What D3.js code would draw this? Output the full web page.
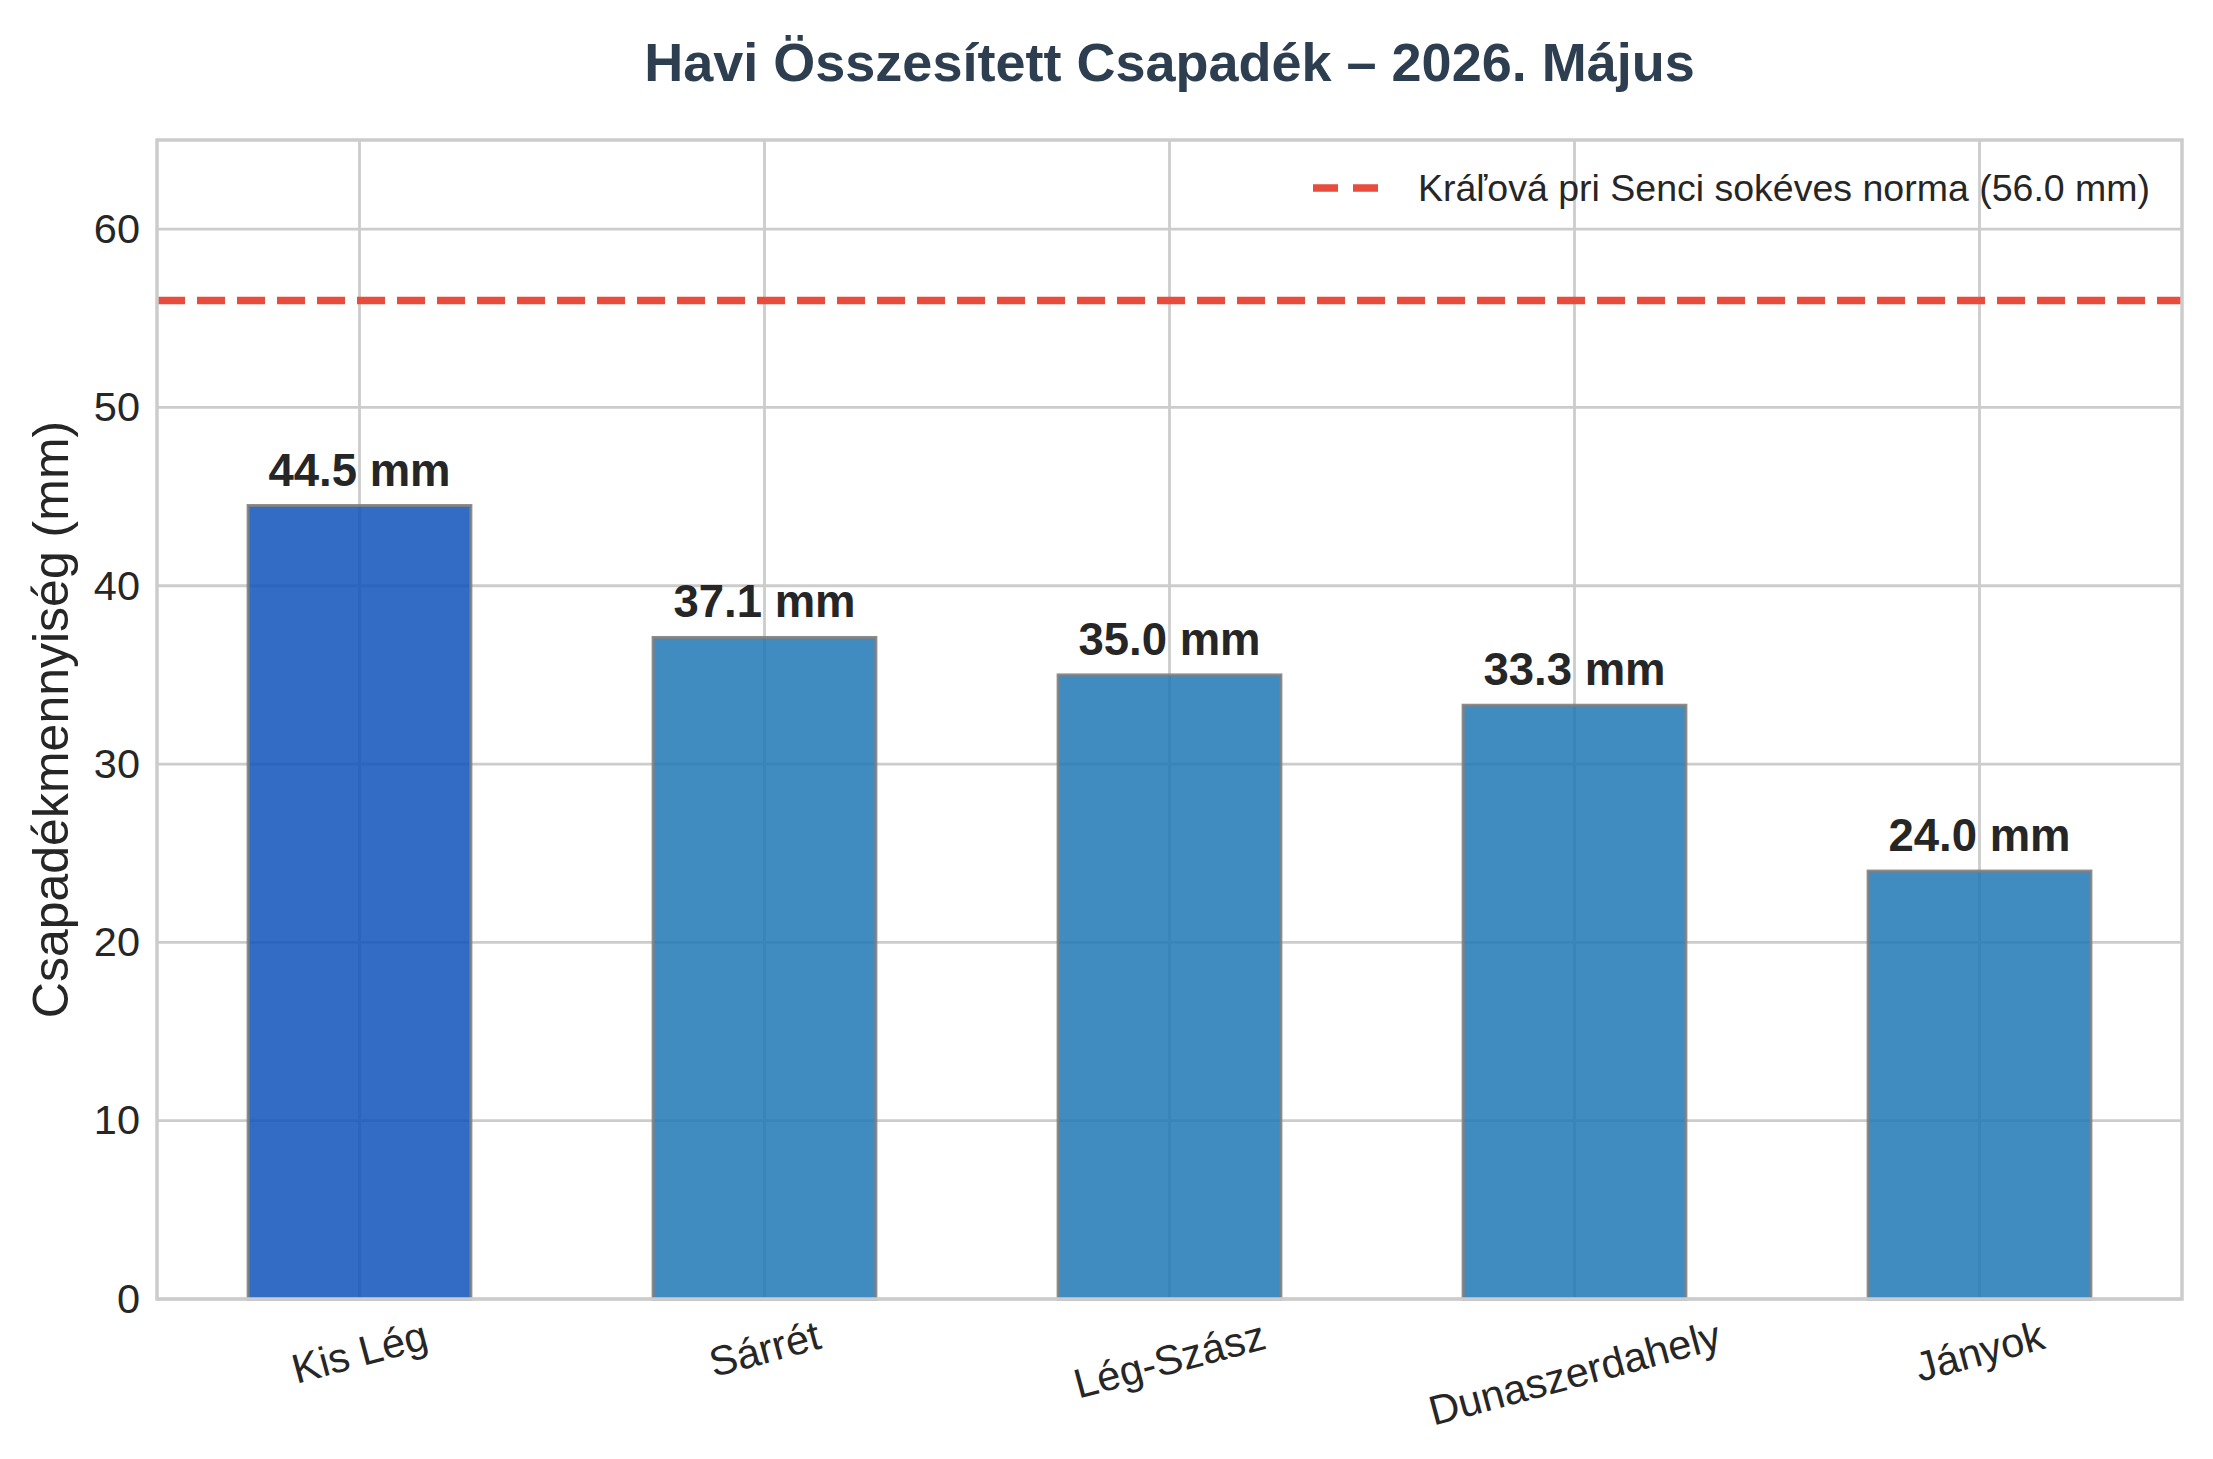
<!DOCTYPE html>
<html>
<head>
<meta charset="utf-8">
<script src="https://cdn.jsdelivr.net/npm/d3@7"></script>
<style>
  html, body { margin: 0; padding: 0; background: #ffffff; }
  svg { display: block; }
  text { font-family: "Liberation Sans", Arial, Helvetica, sans-serif; }
</style>
</head>
<body>
<svg id="chart" width="2213" height="1459"></svg>
<script>
// ---- data ----
const categories = ["Kis Lég", "Sárrét", "Lég-Szász", "Dunaszerdahely", "Jányok"];
const values = [44.5, 37.1, 35.0, 33.3, 24.0];
const yTicks = [0, 10, 20, 30, 40, 50, 60];
const normValue = 56.0;
const normLabel = "Kráľová pri Senci sokéves norma (56.0 mm)";
const titleText = "Havi Összesített Csapadék – 2026. Május";
const yLabelText = "Csapadékmennyiség (mm)";
const yDomain = [0, 65];

// ---- layout ----
const W = 2213, H = 1459;
const plot = { left: 157, right: 2182, top: 140, bottom: 1299 };
const textColor = "#262626";
const gridColor = "#cccccc";
const highlightColor = "#0f52ba";
const baseColor = "#1f77b4";
const normColor = "#e74c3c";

const svg = d3.select("#chart");

const x = d3.scaleBand()
  .domain(categories)
  .range([plot.left, plot.right])
  .paddingInner(0.45)
  .paddingOuter(0.225);

const y = d3.scaleLinear().domain(yDomain).range([plot.bottom, plot.top]);

// ---- grid ----
const grid = svg.append("g").attr("class", "grid");
grid.selectAll("line.h").data(yTicks).join("line")
  .attr("class", "h")
  .attr("x1", plot.left).attr("x2", plot.right)
  .attr("y1", d => y(d)).attr("y2", d => y(d))
  .attr("stroke", gridColor).attr("stroke-width", 2.8);
grid.selectAll("line.v").data(categories).join("line")
  .attr("class", "v")
  .attr("x1", d => x(d) + x.bandwidth() / 2).attr("x2", d => x(d) + x.bandwidth() / 2)
  .attr("y1", plot.top).attr("y2", plot.bottom)
  .attr("stroke", gridColor).attr("stroke-width", 2.8);

// ---- bars ----
const maxVal = d3.max(values);
const data = categories.map((c, i) => ({ cat: c, val: values[i] }));
svg.append("g").selectAll("rect").data(data).join("rect")
  .attr("x", d => x(d.cat))
  .attr("width", x.bandwidth())
  .attr("y", d => y(d.val))
  .attr("height", d => y(0) - y(d.val))
  .attr("fill", d => d.val === maxVal ? highlightColor : baseColor)
  .attr("fill-opacity", 0.85)
  .attr("stroke", "#808080")
  .attr("stroke-opacity", 0.9)
  .attr("stroke-width", 3);

// ---- value labels ----
svg.append("g").selectAll("text").data(data).join("text")
  .attr("x", d => x(d.cat) + x.bandwidth() / 2)
  .attr("y", d => y(d.val) - 20)
  .attr("text-anchor", "middle")
  .attr("font-size", 45.5)
  .attr("font-weight", "bold")
  .attr("fill", textColor)
  .text(d => d.val.toFixed(1) + " mm");

// ---- norm line ----
svg.append("line")
  .attr("x1", plot.left).attr("x2", plot.right)
  .attr("y1", y(normValue)).attr("y2", y(normValue))
  .attr("stroke", normColor).attr("stroke-width", 7.5)
  .attr("stroke-dasharray", "28,12");

// ---- spines ----
svg.append("rect")
  .attr("x", plot.left).attr("y", plot.top)
  .attr("width", plot.right - plot.left).attr("height", plot.bottom - plot.top)
  .attr("fill", "none").attr("stroke", gridColor).attr("stroke-width", 3.5);

// ---- y axis ----
const yAxis = d3.axisLeft(y).tickValues(yTicks).tickSize(0).tickPadding(17)
  .tickFormat(d3.format("d"));
const yg = svg.append("g").attr("transform", `translate(${plot.left},0)`).call(yAxis);
yg.select(".domain").remove();
yg.selectAll("text")
  .attr("font-size", 41.5)
  .attr("fill", textColor)
  .attr("font-family", "'Liberation Sans', Arial, sans-serif");

// ---- x axis labels (rotated 15°) ----
const xg = svg.append("g");
const fs = 41.5, rot = 15, rad = rot * Math.PI / 180;
const labelTop = plot.bottom + 12;
categories.forEach(c => {
  const t = xg.append("text")
    .attr("text-anchor", "middle")
    .attr("dominant-baseline", "central")
    .attr("font-size", fs)
    .attr("fill", textColor)
    .text(c);
  const w = t.node().getComputedTextLength();
  const h = fs * 1.15;
  const bh = w * Math.sin(rad) + h * Math.cos(rad);
  const cx = x(c) + x.bandwidth() / 2;
  const cy = labelTop + bh / 2;
  t.attr("transform", `translate(${cx},${cy}) rotate(${-rot})`);
});

// ---- y label ----
svg.append("text")
  .attr("transform", `translate(68,${(plot.top + plot.bottom) / 2}) rotate(-90)`)
  .attr("text-anchor", "middle")
  .attr("font-size", 50)
  .attr("fill", textColor)
  .text(yLabelText);

// ---- title ----
svg.append("text")
  .attr("x", (plot.left + plot.right) / 2)
  .attr("y", 81)
  .attr("text-anchor", "middle")
  .attr("font-size", 54)
  .attr("font-weight", "bold")
  .attr("fill", "#2c3e50")
  .text(titleText);

// ---- legend ----
const lg = svg.append("g");
lg.append("line")
  .attr("x1", 1313).attr("x2", 1380)
  .attr("y1", 188).attr("y2", 188)
  .attr("stroke", normColor).attr("stroke-width", 7.5)
  .attr("stroke-dasharray", "25,15");
lg.append("text")
  .attr("x", 1418).attr("y", 201)
  .attr("font-size", 37.5)
  .attr("fill", textColor)
  .text(normLabel);
</script>
</body>
</html>
